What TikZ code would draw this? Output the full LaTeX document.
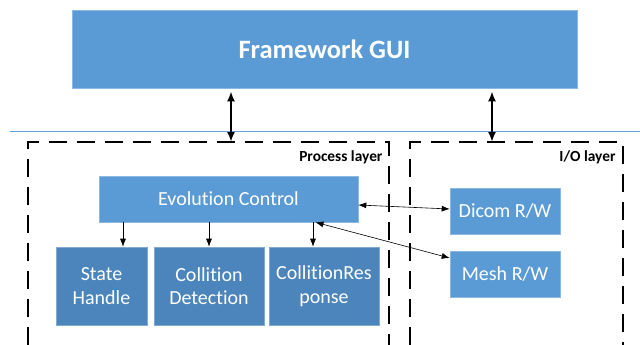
\documentclass[tikz,border=0pt]{standalone}
\usepackage{fontspec}
\setmainfont{Carlito}[Ligatures={NoCommon,NoRare,NoContextual}]
\usetikzlibrary{arrows.meta,positioning,calc}
\definecolor{boxblue}{RGB}{91,155,213}
\definecolor{darkblue}{RGB}{76,133,188}
\definecolor{lineblue}{RGB}{100,160,230}
\tikzstyle{topbox} = [rectangle, fill=boxblue, draw=boxblue!70!white, line width=0.6pt, text=white, font=\fontsize{26.5}{30}\selectfont\bfseries, minimum width=505pt, minimum height=78pt]
\tikzstyle{ctrl} = [rectangle, fill=boxblue, draw=boxblue!70!white, line width=0.6pt, text=white, font=\fontsize{20}{24}\selectfont, minimum height=46pt, inner sep=0pt]
\tikzstyle{sub} = [rectangle, fill=darkblue, draw=darkblue!70!white, line width=0.6pt, text=white, font=\fontsize{20}{23.5}\selectfont, minimum height=78pt, align=center, inner sep=0pt]
\tikzstyle{layer} = [line width=2.5pt, dash pattern=on 18pt off 10pt]
\tikzstyle{bigarrow} = [line width=2pt, {Latex[length=10pt,width=8pt]}-{Latex[length=10pt,width=8pt]}]
\tikzstyle{arrow} = [line width=0.6pt, -{Latex[length=8pt,width=6pt]}]
\tikzstyle{dblarrow} = [line width=0.6pt, {Latex[length=8pt,width=6pt]}-{Latex[length=8pt,width=6pt]}]

\begin{document}
\begin{tikzpicture}[x=1pt,y=-1pt]
\useasboundingbox (0,0) rectangle (640,345);
% top box and separator
\node (gui) [topbox] at (324.5,49) {Framework GUI};
\draw[lineblue, line width=1pt] (10,131) -- (640,131);
% layers
\draw[layer] (28,345) -- (28,142) -- (389,142) -- (389,345);
\draw[layer] (410,345) -- (410,142) -- (623,142) -- (623,345);
\node (plabel) [anchor=east, font=\fontsize{15.4}{17}\selectfont\bfseries] at (386,157) {Process layer};
\node (iolabel) [anchor=east, font=\fontsize{15.4}{17}\selectfont\bfseries] at (619,157) {I/O layer};
\coordinate (ptop) at (231,142);
\coordinate (iotop) at (492,142);
% process layer
\node (evo) [ctrl, minimum width=259pt] at (228.5,199) {Evolution Control};
\node (state) [sub, minimum width=91pt] at (101.5,286) {State\\Handle};
\node (detect) [sub, minimum width=110pt] at (209,286) {Collition\\Detection};
\node (resp) [sub, minimum width=110pt] at (324,286) {CollitionRes\\ponse};
% i/o layer
\node (dicom) [ctrl, minimum width=110pt] at (505,211) {Dicom R/W};
\node (mesh) [ctrl, minimum width=110pt] at (505,274) {Mesh R/W};
% connectors
\draw[bigarrow] ([yshift=-3pt]gui.south -| ptop) -- (ptop);
\draw[bigarrow] ([yshift=-3pt]gui.south -| iotop) -- (iotop);
\draw[arrow] (evo.south -| 123,0) -- (state.north -| 123,0);
\draw[arrow] (evo.south -| detect.north) -- (detect.north);
\draw[arrow] (evo.south -| 313,0) -- (resp.north -| 313,0);
\draw[dblarrow] ([yshift=-6pt]evo.east) -- ([yshift=2pt]dicom.west);
\draw[dblarrow] ([xshift=87pt]evo.south) -- ([yshift=16pt]mesh.west);
\end{tikzpicture}
\end{document}
